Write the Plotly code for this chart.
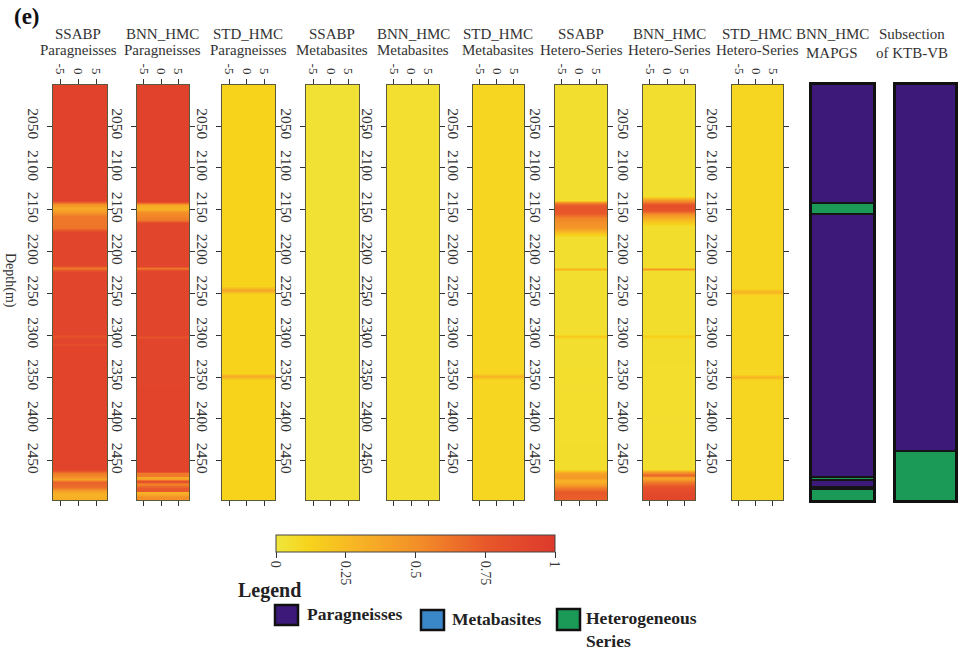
import plotly.graph_objects as go

W, H = 963, 651

# ---------------- data ----------------
titles_top = ["SSABP", "BNN_HMC", "STD_HMC", "SSABP", "BNN_HMC", "STD_HMC",
              "SSABP", "BNN_HMC", "STD_HMC", "BNN_HMC", "Subsection"]
titles_bot = ["Paragneisses", "Paragneisses", "Paragneisses", "Metabasites", "Metabasites",
              "Metabasites", "Hetero-Series", "Hetero-Series", "Hetero-Series", "MAPGS", "of KTB-VB"]

depth_ticks = [2050, 2100, 2150, 2200, 2250, 2300, 2350, 2400, 2450]
x_ticks = [-5, 0, 5]
cbar_ticks = [0, 0.25, 0.5, 0.75, 1]

# probability profiles (depth anchors, value)
p1_depth = [2000, 2138, 2143, 2148, 2153, 2158, 2172, 2177, 2216, 2220, 2224, 2298, 2301, 2304,
            2309, 2311, 2314, 2460, 2465, 2470, 2472, 2476, 2481, 2486, 2490, 2500]
p1_val = [0.93, 0.93, 0.5, 0.35, 0.45, 0.6, 0.62, 0.9, 0.9, 0.6, 0.9, 0.9, 0.8, 0.9,
          0.9, 0.83, 0.92, 0.92, 0.6, 0.5, 0.4, 0.7, 0.65, 0.4, 0.3, 0.35]

p2_depth = [2000, 2140, 2144, 2149, 2153, 2162, 2166, 2217, 2220, 2223, 2300, 2302, 2304,
            2462, 2465, 2468, 2470, 2472, 2474, 2478, 2483, 2486, 2488, 2490, 2493, 2500]
p2_val = [0.93, 0.93, 0.35, 0.3, 0.5, 0.6, 0.9, 0.9, 0.6, 0.9, 0.9, 0.8, 0.9,
          0.92, 0.6, 0.6, 0.35, 0.4, 0.85, 0.55, 0.75, 0.75, 0.3, 0.35, 0.5, 0.5]

p3_depth = [2000, 2241, 2246, 2251, 2345, 2349, 2353, 2500]
p3_val = [0.12, 0.12, 0.38, 0.12, 0.12, 0.35, 0.12, 0.12]

p4_depth = [2000, 2500]
p4_val = [0.03, 0.03]

p5_depth = [2000, 2500]
p5_val = [0.045, 0.045]

p6_depth = [2000, 2345, 2349, 2353, 2500]
p6_val = [0.1, 0.1, 0.3, 0.1, 0.1]

p7_depth = [2000, 2138, 2142, 2146, 2154, 2160, 2172, 2178, 2183, 2219, 2221, 2223,
            2298, 2301, 2304, 2460, 2465, 2470, 2474, 2478, 2483, 2488, 2500]
p7_val = [0.05, 0.05, 0.6, 0.78, 0.75, 0.55, 0.45, 0.2, 0.05, 0.05, 0.3, 0.05,
          0.05, 0.18, 0.05, 0.06, 0.4, 0.45, 0.3, 0.4, 0.6, 0.75, 0.7]

p8_depth = [2000, 2134, 2139, 2145, 2150, 2155, 2162, 2170, 2219, 2221, 2223,
            2298, 2301, 2304, 2460, 2463, 2467, 2471, 2476, 2482, 2490, 2500]
p8_val = [0.05, 0.05, 0.45, 0.82, 0.8, 0.5, 0.25, 0.06, 0.06, 0.45, 0.06,
          0.06, 0.15, 0.06, 0.05, 0.45, 0.7, 0.35, 0.6, 0.8, 0.88, 0.9]

p9_depth = [2000, 2244, 2248, 2252, 2346, 2350, 2354, 2500]
p9_val = [0.1, 0.1, 0.3, 0.1, 0.1, 0.3, 0.1, 0.1]

# lithology columns: band edges and class (0 Paragneisses, 1 Metabasites, 2 Heterogeneous)
mapgs_edges = [1995, 2142, 2155, 2469, 2472.5, 2481, 2484, 2505]
mapgs_class = [0, 2, 0, 2, 0, 0, 2]
ktb_edges = [1995, 2438, 2505]
ktb_class = [0, 2]

lith_names = ["Paragneisses", "Metabasites", "Heterogeneous<br>Series"]
lith_colors = ["#3d1a7a", "#3a88c8", "#1b9a57"]

profiles = [(p1_depth, p1_val), (p2_depth, p2_val), (p3_depth, p3_val), (p4_depth, p4_val),
            (p5_depth, p5_val), (p6_depth, p6_val), (p7_depth, p7_val), (p8_depth, p8_val),
            (p9_depth, p9_val)]

# ---------------- layout geometry (pixels) ----------------
panels_px = [(53, 107), (137, 189), (222, 275), (306, 359), (387, 439), (473, 524),
             (555, 607), (643, 695), (732, 783), (812, 873), (896, 955)]
top_px, bot_px = 85, 500

def X(px):
    return px / W

def Y(py):
    return 1 - py / H

colorscale = [[0, "#efe63c"], [0.12, "#f7d31c"], [0.3, "#f7b325"], [0.5, "#f39028"],
              [0.75, "#e8582a"], [1, "#dd392c"]]

fig = go.Figure()
serif = "Liberation Serif"

for i, (d, v) in enumerate(profiles):
    k = "" if i == 0 else str(i + 1)
    fig.add_trace(go.Heatmap(
        x=[-20, 20], y=d, z=[[val, val] for val in v],
        coloraxis="coloraxis", zsmooth="best",
        xaxis="x" + k, yaxis="y" + k, hoverinfo="skip"))

def lith_trace(edges, cls, idx):
    k = str(idx + 1)
    n = len(lith_colors)
    cs = []
    for j, c in enumerate(lith_colors):
        cs.append([j / n, c])
        cs.append([(j + 1) / n, c])
    return go.Heatmap(x=[-20, 20], y=edges, z=[[c] for c in cls], zmin=-0.5, zmax=2.5,
                      colorscale=cs, showscale=False, zsmooth=False, ygap=2,
                      xaxis="x" + k, yaxis="y" + k, hoverinfo="skip")

fig.add_trace(lith_trace(mapgs_edges, mapgs_class, 9))
fig.add_trace(lith_trace(ktb_edges, ktb_class, 10))

layout = dict(width=W, height=H, margin=dict(l=0, r=0, t=0, b=0),
              paper_bgcolor="white", plot_bgcolor="#151515", showlegend=False,
              font=dict(family=serif, color="#333"))

for i, (l, r) in enumerate(panels_px):
    k = "" if i == 0 else str(i + 1)
    is_lith = i >= 9
    xa = dict(domain=[X(l), X(r)], anchor="y" + k, range=[-7, 8], showgrid=False,
              zeroline=False)
    ya = dict(domain=[Y(bot_px), Y(top_px)], anchor="x" + k, range=[2497, 2001],
              showgrid=False, zeroline=False)
    if is_lith:
        for a in (xa, ya):
            a.update(showline=True, linewidth=3, linecolor="#111", mirror=True,
                     showticklabels=False, ticks="")
    else:
        xa.update(side="top", tickvals=x_ticks, ticktext=[str(t) for t in x_ticks],
                  tickangle=90, ticks="outside", ticklen=5, tickcolor="#333",
                  showline=True, linecolor="#5a5a3a", linewidth=1, mirror="ticks",
                  tickfont=dict(family=serif, size=13, color="#333"))
        ya.update(tickvals=depth_ticks, ticktext=[str(t) for t in depth_ticks],
                  tickangle=90, ticks="outside", ticklen=5, tickcolor="#333",
                  showline=True, linecolor="#5a5a3a", linewidth=1, mirror="ticks",
                  tickfont=dict(family=serif, size=15.5, color="#333"))
    layout["xaxis" + k] = xa
    layout["yaxis" + k] = ya

layout["coloraxis"] = dict(
    cmin=0, cmax=1, colorscale=colorscale,
    colorbar=dict(orientation="h", x=X(415.5), xanchor="center", y=Y(535), yanchor="top",
                  len=279, lenmode="pixels", thickness=17, thicknessmode="pixels",
                  tickvals=cbar_ticks, ticktext=["0", "0.25", "0.5", "0.75", "1"],
                  tickangle=90, ticks="outside", ticklen=6, tickcolor="#333",
                  outlinewidth=1, outlinecolor="#444", xpad=0, ypad=0,
                  tickfont=dict(family=serif, size=14, color="#333")))

fig.update_layout(**layout)

annotations = []
title_x = [78, 162, 248, 332, 413, 498, 581, 669, 757, 832, 912]
for i in range(11):
    y2 = 53 if i >= 9 else 50
    annotations.append(dict(x=X(title_x[i]), y=Y(34), xref="paper", yref="paper",
                            text=titles_top[i], showarrow=False,
                            font=dict(family=serif, size=15, color="#333"),
                            xanchor="center", yanchor="middle"))
    annotations.append(dict(x=X(title_x[i]), y=Y(y2), xref="paper", yref="paper",
                            text=titles_bot[i], showarrow=False,
                            font=dict(family=serif, size=15, color="#333"),
                            xanchor="center", yanchor="middle"))

annotations.append(dict(x=X(12), y=Y(16), xref="paper", yref="paper", text="<b>(e)</b>",
                        showarrow=False, xanchor="left", yanchor="middle",
                        font=dict(family=serif, size=23, color="#111")))
annotations.append(dict(x=X(10), y=Y(280), xref="paper", yref="paper", text="Depth(m)",
                        showarrow=False, textangle=90, xanchor="center", yanchor="middle",
                        font=dict(family=serif, size=14, color="#333")))
annotations.append(dict(x=X(236), y=Y(590), xref="paper", yref="paper", text="<b>Legend</b>",
                        showarrow=False, xanchor="left", yanchor="middle",
                        font=dict(family=serif, size=20, color="#222")))

shapes = []
legend_boxes = [(275, 605, 298, 625), (421, 610, 444, 630), (557, 609, 580, 630)]
legend_text_pos = [(305, 614), (450, 619), (584, 629)]
for j, ((x0, y0, x1, y1), (tx, ty)) in enumerate(zip(legend_boxes, legend_text_pos)):
    shapes.append(dict(type="rect", xref="paper", yref="paper", x0=X(x0), x1=X(x1),
                       y0=Y(y1), y1=Y(y0), fillcolor=lith_colors[j],
                       line=dict(color="#111", width=2.5)))
    annotations.append(dict(x=X(tx), y=Y(ty), xref="paper", yref="paper",
                            text="<b>" + lith_names[j].replace("<br>", "</b><br><b>") + "</b>",
                            showarrow=False, xanchor="left", yanchor="middle", align="left",
                            font=dict(family=serif, size=17.5, color="#222")))

fig.update_layout(annotations=annotations, shapes=shapes)
fig.write_html("out.html")
